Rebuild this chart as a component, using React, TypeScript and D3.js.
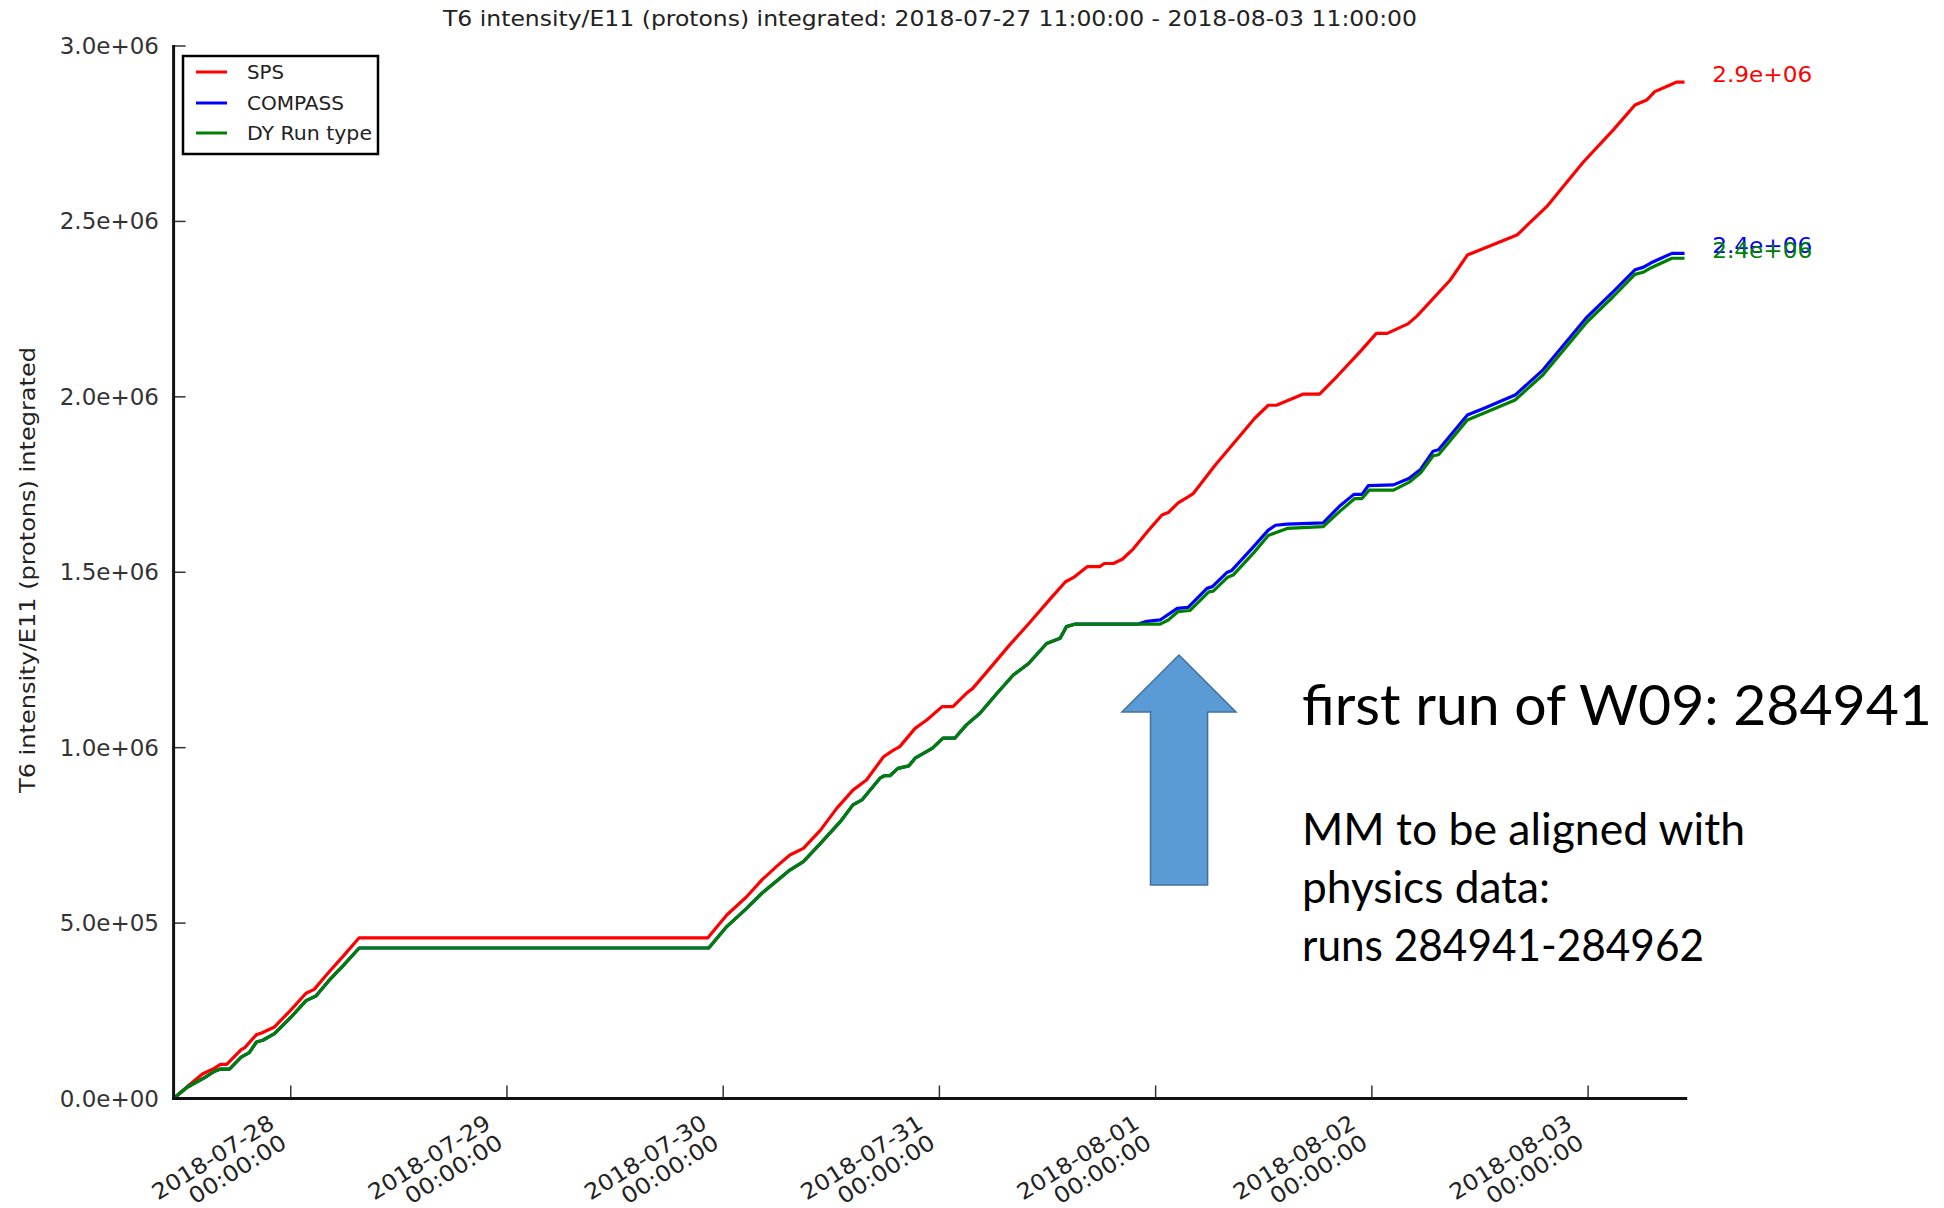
import React from "react";
import * as d3 from "d3";

// ---- data (hours since 2018-07-27 11:00 UTC, values in thousands of protons) ----
const spsHours = [0, 1.7, 3.2, 4.5, 5.2, 5.9, 7.5, 7.9, 9.2, 9.7, 11.2, 13.0, 14.7, 15.6, 17.2, 18.9, 20.6, 59.3, 61.4, 63.6, 65.3, 66.9, 68.4, 69.9, 71.8, 73.6, 75.4, 76.9, 78.8, 79.9, 80.6, 82.3, 83.6, 85.3, 86.5, 88.0, 88.7, 90.6, 92.8, 95.1, 97.3, 99.0, 100.0, 101.4, 102.8, 103.3, 104.3, 105.3, 106.5, 108.1, 109.7, 110.4, 111.5, 112.6, 113.2, 115.6, 118.2, 120.0, 121.5, 122.4, 125.4, 127.2, 129.2, 131.7, 133.5, 134.7, 137.0, 138.0, 141.7, 143.6, 145.4, 149.1, 152.4, 156.5, 159.8, 162.2, 163.5, 164.4, 166.1, 166.8, 167.7];
const spsValues = [0, 38, 70, 86, 97, 97, 139, 145, 182, 186, 204, 252, 300, 311, 359, 408, 458, 458, 523, 575, 623, 661, 694, 713, 765, 827, 879, 908, 974, 993, 1003, 1055, 1079, 1117, 1117, 1155, 1169, 1226, 1293, 1359, 1424, 1473, 1487, 1516, 1516, 1525, 1525, 1537, 1566, 1616, 1663, 1670, 1698, 1715, 1725, 1805, 1884, 1939, 1976, 1976, 2008, 2008, 2060, 2129, 2181, 2181, 2208, 2230, 2333, 2404, 2423, 2461, 2542, 2670, 2761, 2832, 2846, 2870, 2889, 2897, 2897];

const compassHours = [0, 1.5, 3.4, 4.5, 5.2, 6.2, 7.5, 8.4, 9.2, 9.9, 11.2, 13.0, 14.7, 15.8, 17.2, 18.9, 20.6, 59.4, 61.4, 63.6, 65.3, 67.3, 68.4, 69.9, 71.8, 74.0, 75.4, 76.4, 78.4, 78.9, 79.5, 80.4, 81.6, 82.3, 84.2, 85.4, 86.7, 88.0, 89.5, 91.4, 93.2, 94.9, 96.9, 98.4, 99.1, 100.0, 107.0, 108.0, 109.5, 111.4, 112.6, 114.7, 115.3, 116.9, 117.4, 119.7, 121.5, 122.3, 123.6, 127.6, 129.4, 131.0, 131.9, 132.6, 135.4, 137.1, 138.4, 139.8, 140.4, 143.6, 145.4, 148.9, 152.0, 156.9, 159.8, 162.2, 163.1, 164.0, 166.3, 167.7];
const compassValues = [0, 32, 59, 77, 84, 84, 118, 131, 161, 166, 185, 231, 279, 292, 335, 381, 429, 429, 490, 542, 585, 628, 651, 675, 727, 789, 837, 851, 913, 920, 920, 941, 948, 970, 998, 1027, 1027, 1065, 1098, 1155, 1207, 1240, 1297, 1312, 1345, 1352, 1352, 1360, 1364, 1397, 1400, 1454, 1459, 1499, 1504, 1568, 1620, 1634, 1637, 1641, 1688, 1722, 1722, 1747, 1749, 1767, 1793, 1845, 1849, 1948, 1967, 2005, 2077, 2228, 2300, 2362, 2369, 2382, 2409, 2409];

const dyHours = [0, 1.5, 3.4, 4.5, 5.2, 6.2, 7.5, 8.4, 9.2, 9.9, 11.2, 13.0, 14.7, 15.8, 17.2, 18.9, 20.6, 59.4, 61.4, 63.6, 65.3, 67.3, 68.4, 69.9, 71.8, 74.0, 75.4, 76.4, 78.4, 78.9, 79.5, 80.4, 81.6, 82.3, 84.2, 85.4, 86.7, 88.0, 89.5, 91.4, 93.2, 94.9, 96.9, 98.4, 99.1, 100.0, 109.5, 110.4, 111.5, 112.8, 114.9, 115.4, 117.0, 117.6, 119.9, 121.5, 123.6, 127.6, 129.5, 131.1, 131.9, 132.7, 135.4, 137.1, 138.4, 139.8, 140.4, 143.6, 145.4, 148.9, 152.0, 156.9, 159.8, 162.2, 163.1, 164.0, 166.3, 167.7];
const dyValues = [0, 32, 59, 77, 84, 84, 118, 131, 161, 166, 185, 231, 279, 292, 335, 381, 429, 429, 490, 542, 585, 628, 651, 675, 727, 789, 837, 851, 913, 920, 920, 941, 948, 970, 998, 1027, 1027, 1065, 1098, 1155, 1207, 1240, 1297, 1312, 1345, 1352, 1352, 1364, 1388, 1391, 1444, 1446, 1486, 1492, 1556, 1605, 1625, 1630, 1675, 1710, 1710, 1734, 1734, 1756, 1783, 1832, 1835, 1934, 1953, 1991, 2063, 2214, 2286, 2349, 2355, 2368, 2395, 2395];

const seriesNames = ["SPS", "COMPASS", "DY Run type"];
const seriesColors = ["#ff0000", "#0000ff", "#008000"];
const yTickValues = [0, 5e5, 1e6, 1.5e6, 2e6, 2.5e6, 3e6];

const titleText = "T6 intensity/E11 (protons) integrated: 2018-07-27 11:00:00 - 2018-08-03 11:00:00";
const yLabelText = "T6 intensity/E11 (protons) integrated";
const noteTitle = "first run of W09: 284941";
const noteLines = ["MM to be aligned with", "physics data:", "runs 284941-284962"];

const START = Date.UTC(2018, 6, 27, 11);
const END = Date.UTC(2018, 7, 3, 11);
const KILO = 1000;

const COND = "'DejaVu Sans Condensed', 'DejaVu Sans', sans-serif";
const NOTE_FONT = "Lato, 'Open Sans', sans-serif";

function sci(v: number): string {
  if (v === 0) return "0.0e+00";
  const e = Math.floor(Math.log10(Math.abs(v)));
  const m = v / Math.pow(10, e);
  const es = (e < 0 ? "-" : "+") + String(Math.abs(e)).padStart(2, "0");
  return m.toFixed(1) + "e" + es;
}

export default function App() {
  const W = 1944, H = 1208;
  const x0 = 173.6, x1 = 1687.2, y0 = 1098.5, y1 = 46;
  const x = d3.scaleUtc().domain([new Date(START), new Date(END)]).range([x0, x1]);
  const y = d3.scaleLinear().domain([0, 3e6]).range([y0, y1]);

  const mk = (hs: number[], vs: number[]) =>
    hs.map((h, i) => ({ t: new Date(START + h * 3600e3), v: vs[i] * KILO }));
  const series = [
    mk(spsHours, spsValues),
    mk(compassHours, compassValues),
    mk(dyHours, dyValues),
  ];
  const line = d3
    .line<{ t: Date; v: number }>()
    .x((d) => x(d.t))
    .y((d) => y(d.v))
    .curve(d3.curveLinear);

  const xTicks = d3.utcDay.range(new Date(START), new Date(END));
  const fDate = d3.utcFormat("%Y-%m-%d");
  const fTime = d3.utcFormat("%H:%M:%S");

  const legendRows = [72, 103, 133];
  const legendWidths = [37, 97, 125];
  const noteWidths = [443, 248, 402];

  return (
    <svg
      width={W}
      height={H}
      style={{ position: "absolute", left: 0, top: 0, display: "block", background: "#fff" }}
    >
      <rect x={0} y={0} width={W} height={H} fill="#fff" />
      {/* title */}
      <text x={930} y={26} textAnchor="middle" fontFamily={COND} fontSize={21} fill="#222" textLength={974} lengthAdjust="spacingAndGlyphs">
        {titleText}
      </text>

      {/* y label */}
      <text transform="translate(28,570) rotate(-90)" textAnchor="middle" dominantBaseline="central" fontFamily={COND} fontSize={21} fill="#222" textLength={446} lengthAdjust="spacingAndGlyphs">
        {yLabelText}
      </text>

      {/* y ticks */}
      {yTickValues.map((v) => (
        <g key={v}>
          <line x1={x0} x2={x0 + 12} y1={y(v)} y2={y(v)} stroke="#333" strokeWidth={1.5} />
          <text x={159} y={y(v)} textAnchor="end" dominantBaseline="central" fontFamily="'DejaVu Sans', sans-serif" fontSize={23} fill="#333">
            {sci(v)}
          </text>
        </g>
      ))}

      {/* x ticks */}
      {xTicks.map((t) => (
        <g key={t.getTime()}>
          <line x1={x(t)} x2={x(t)} y1={y0} y2={y0 - 13} stroke="#333" strokeWidth={1.5} />
          <g transform={`translate(${x(t) - 1},${y0 - 6}) rotate(-32)`}>
            <text x={-30} y={22} textAnchor="end" fontFamily={COND} fontSize={22} fill="#222" textLength={139} lengthAdjust="spacingAndGlyphs">
              {fDate(t)}
            </text>
            <text x={-30} y={45} textAnchor="end" fontFamily={COND} fontSize={22} fill="#222" textLength={110} lengthAdjust="spacingAndGlyphs">
              {fTime(t)}
            </text>
          </g>
        </g>
      ))}

      {/* series */}
      {series.map((s, i) => (
        <path key={i} d={line(s) || ""} fill="none" stroke={seriesColors[i]} strokeWidth={3.2} strokeLinejoin="round" />
      ))}

      {/* end labels */}
      {series.map((s, i) => {
        const last = s[s.length - 1];
        return (
          <text key={i} x={x1 + 25} y={y(last.v)} fontFamily={COND} fontSize={22} fill={seriesColors[i]} textLength={100} lengthAdjust="spacingAndGlyphs">
            {sci(last.v)}
          </text>
        );
      })}

      {/* axes */}
      <line x1={x0} x2={x0} y1={y1 - 1} y2={y0 + 1.5} stroke="#111" strokeWidth={3} />
      <line x1={x0 - 1.5} x2={x1} y1={y0} y2={y0} stroke="#111" strokeWidth={3} />

      {/* legend */}
      <rect x={183} y={56} width={195} height={98} fill="#fff" stroke="#000" strokeWidth={2.5} />
      {seriesNames.map((n, i) => (
        <g key={n}>
          <line x1={196} x2={227} y1={legendRows[i]} y2={legendRows[i]} stroke={seriesColors[i]} strokeWidth={3} />
          <text x={247} y={legendRows[i]} dominantBaseline="central" fontFamily={COND} fontSize={20} fill="#222" textLength={legendWidths[i]} lengthAdjust="spacingAndGlyphs">
            {n}
          </text>
        </g>
      ))}

      {/* annotation arrow */}
      <polygon
        points="1179,655 1236,712 1207.6,712 1207.6,885 1150.5,885 1150.5,712 1122,712"
        fill="#5B9BD5"
        stroke="#41719C"
        strokeWidth={1.5}
      />
      <text x={1302} y={725} fontFamily={NOTE_FONT} fontSize={56} fill="#000" textLength={630} lengthAdjust="spacingAndGlyphs">
        {noteTitle}
      </text>
      {noteLines.map((l, i) => (
        <text key={i} x={1302} y={845 + i * 58} fontFamily={NOTE_FONT} fontSize={44} fill="#000" textLength={noteWidths[i]} lengthAdjust="spacingAndGlyphs">
          {l}
        </text>
      ))}
    </svg>
  );
}
